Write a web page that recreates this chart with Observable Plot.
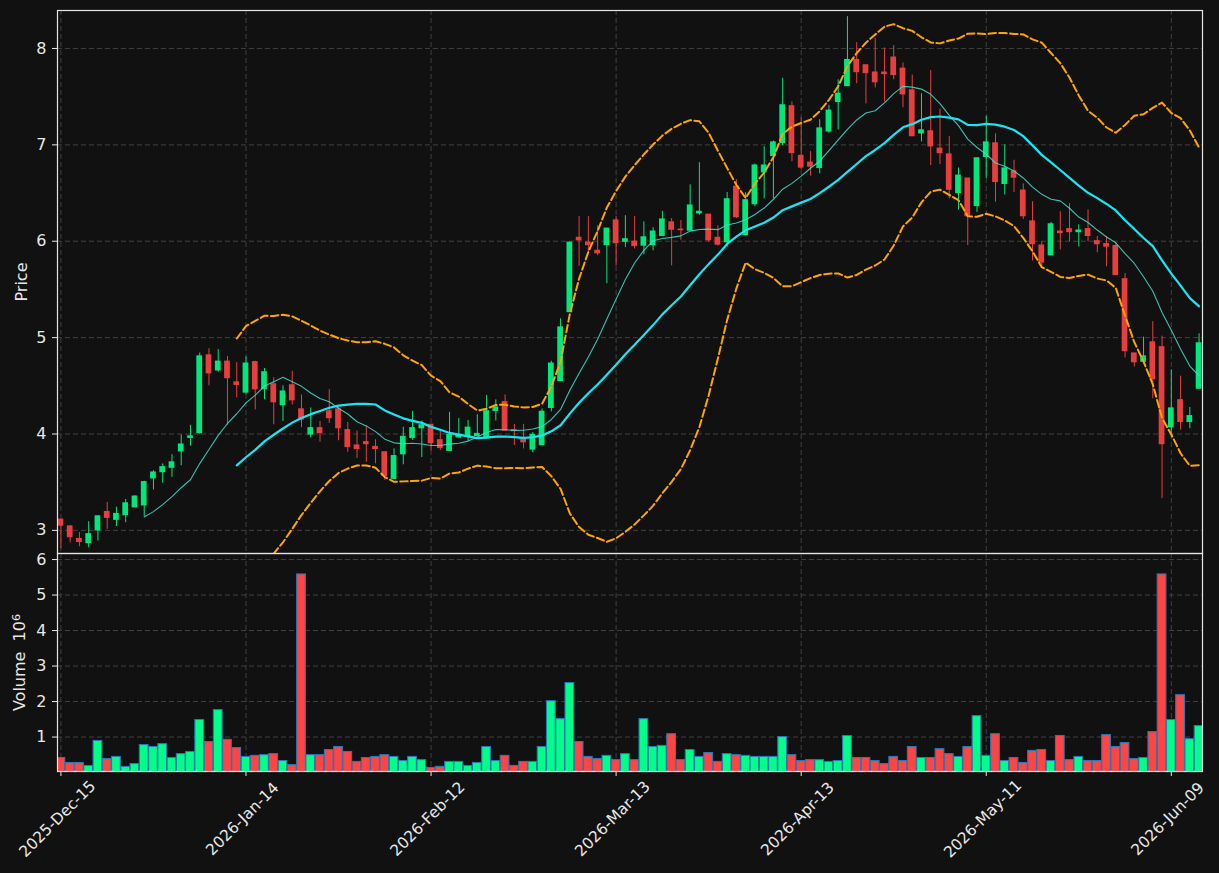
<!DOCTYPE html>
<html><head><meta charset="utf-8">
<script src="https://cdn.jsdelivr.net/npm/d3@7"></script>
<script src="https://cdn.jsdelivr.net/npm/@observablehq/plot@0.6"></script>
<style>
html,body{margin:0;padding:0;background:#111111;}
#chart{width:1219px;height:873px;background:#111111;overflow:hidden;}
#chart svg{display:block;}
</style></head><body><div id="chart"></div>
<script>
// Daily OHLC (price) and volume (millions of shares), one entry per trading day
const openP = [3.11,3.04,2.91,2.87,3.00,3.19,3.11,3.16,3.24,3.26,
3.54,3.605,3.65,3.82,3.96,4.01,4.815,4.66,4.75,4.535,
4.43,4.745,4.465,4.515,4.30,4.505,4.255,3.995,4.06,4.235,
4.255,4.04,3.88,3.915,3.865,3.81,3.535,3.79,3.96,4.06,
4.095,3.935,3.825,3.965,3.98,3.98,3.96,4.24,4.33,4.04,
3.945,3.84,3.885,4.27,4.55,5.265,6.035,5.985,5.90,5.96,
6.215,5.995,5.995,5.955,5.96,6.055,6.195,6.12,6.11,6.29,
6.275,6.035,5.99,6.565,6.065,6.385,6.715,6.885,7.02,7.40,
6.885,6.815,6.76,7.14,7.445,7.61,7.88,7.825,7.75,7.75,
7.905,7.79,7.565,7.12,7.14,6.96,6.90,6.50,6.65,6.365,
6.875,7.015,6.595,6.725,6.525,6.205,5.955,5.855,6.10,6.125,
6.095,6.125,6.00,5.97,5.95,5.605,4.835,4.75,4.95,4.90,
4.07,4.35,4.125,4.47];
const highP = [3.12,3.05,2.98,3.09,3.15,3.29,3.24,3.32,3.36,3.51,
3.62,3.69,3.785,3.99,4.09,4.84,4.885,4.875,4.805,4.74,
4.80,4.755,4.68,4.585,4.50,4.65,4.405,4.27,4.13,4.46,
4.27,4.12,4.03,4.085,3.94,3.81,3.845,4.07,4.235,4.135,
4.10,4.03,4.225,4.16,4.14,4.20,4.40,4.355,4.405,4.10,
4.10,4.015,4.26,4.755,5.195,5.99,6.255,6.255,6.16,6.135,
6.255,6.265,6.255,6.20,6.14,6.31,6.235,6.215,6.585,6.815,
6.275,6.16,6.505,6.64,6.505,6.80,6.98,7.04,7.69,7.445,
7.28,6.93,7.26,7.41,7.675,8.33,8.06,7.825,8.105,8.005,
8.03,7.85,7.725,7.53,7.77,7.37,7.085,6.76,6.65,6.86,
7.295,7.115,7.00,6.84,6.595,6.41,5.995,6.195,6.305,6.39,
6.17,6.325,6.05,6.05,5.98,5.665,4.835,5.005,5.165,5.015,
4.665,4.60,4.275,5.04];
const lowP = [2.81,2.87,2.83,2.82,2.89,3.01,3.04,3.08,3.235,3.145,
3.42,3.49,3.55,3.67,3.875,4.00,4.50,4.64,4.09,4.375,
4.41,4.25,4.355,4.095,4.13,4.30,4.065,3.96,3.915,4.11,
3.93,3.81,3.745,3.705,3.69,3.52,3.53,3.68,3.935,3.755,
3.825,3.83,3.82,3.955,3.925,3.98,3.945,4.135,4.03,3.88,
3.845,3.805,3.885,4.23,4.55,5.265,5.74,5.875,5.85,5.56,
5.745,5.935,5.92,5.86,5.90,6.05,5.745,6.01,6.11,6.27,
5.99,5.95,5.94,6.235,6.055,6.36,6.44,6.44,6.99,6.825,
6.74,6.675,6.70,7.12,7.155,7.61,7.635,7.425,7.59,7.445,
7.675,7.385,7.09,7.03,6.785,6.795,6.44,6.325,5.955,6.30,
6.65,6.405,6.48,6.505,6.225,5.795,5.715,5.855,5.91,5.995,
5.94,5.995,5.88,5.735,5.65,4.79,4.695,4.75,4.365,3.33,
3.96,4.04,4.055,4.47];
const closeP = [3.05,2.93,2.88,2.96,3.145,3.13,3.17,3.28,3.35,3.50,
3.60,3.655,3.705,3.89,3.975,4.805,4.63,4.75,4.58,4.51,
4.73,4.465,4.64,4.33,4.44,4.35,4.15,4.06,4.01,4.165,
4.06,3.865,3.845,3.895,3.845,3.565,3.77,3.97,4.06,4.09,
3.905,3.855,3.99,3.99,4.065,4.00,4.235,4.275,4.035,4.03,
3.915,3.99,4.23,4.73,5.105,5.985,6.01,5.96,5.875,6.13,
5.98,6.02,5.95,6.04,6.10,6.225,6.12,6.115,6.37,6.305,
6.01,5.965,6.435,6.25,6.425,6.785,6.785,7.025,7.41,6.915,
6.765,6.775,7.17,7.355,7.53,7.88,7.755,7.745,7.65,7.735,
7.725,7.525,7.09,7.15,6.985,6.915,6.535,6.68,6.26,6.86,
7.025,6.615,6.755,6.66,6.26,5.97,5.78,6.175,6.085,6.095,
6.11,6.055,5.97,5.945,5.65,4.86,4.745,4.805,4.57,3.895,
4.265,4.125,4.185,4.94];
const volumeM = [0.41,0.27,0.27,0.185,0.89,0.38,0.44,0.16,0.24,0.775,
0.72,0.80,0.41,0.52,0.58,1.48,0.86,1.76,0.92,0.69,
0.44,0.47,0.49,0.52,0.325,0.21,5.58,0.49,0.49,0.635,
0.72,0.58,0.30,0.41,0.44,0.49,0.44,0.325,0.44,0.35,
0.13,0.16,0.30,0.30,0.185,0.27,0.72,0.325,0.47,0.185,
0.30,0.30,0.72,2.01,1.505,2.52,0.86,0.44,0.38,0.47,
0.35,0.52,0.35,1.505,0.72,0.75,1.08,0.35,0.635,0.44,
0.55,0.30,0.52,0.49,0.47,0.44,0.44,0.44,1.0,0.49,
0.325,0.35,0.35,0.30,0.325,1.03,0.41,0.41,0.325,0.24,
0.44,0.325,0.72,0.41,0.41,0.66,0.52,0.44,0.72,1.59,
0.47,1.08,0.325,0.41,0.27,0.61,0.635,0.325,1.03,0.35,
0.44,0.325,0.325,1.055,0.72,0.83,0.38,0.41,1.14,5.58,
1.48,2.18,0.94,1.31];
// x-axis tick labels (trading-day index of each labelled date)
const tickDay = [0,20,40,60,80,100,120];
const tickLabels = ["2025-Dec-15","2026-Jan-14","2026-Feb-12","2026-Mar-13","2026-Apr-13","2026-May-11","2026-Jun-09"];
const priceTicks = [3,4,5,6,7,8];
const volumeTicks = [1,2,3,4,5,6];

const bars = openP.map((o, i) => ({i, open: o, high: highP[i], low: lowP[i], close: closeP[i], volume: volumeM[i], up: closeP[i] >= o}));
const ups = bars.filter(d => d.up), downs = bars.filter(d => !d.up);
const ticks = tickDay.map((t, j) => ({t, label: tickLabels[j]}));

const UP = "#00e77c", DN = "#e73f3f";
const VUP = "#00ff88", VDN = "#ff4444";
const GRID = {stroke: "#404040", strokeOpacity: 1, strokeWidth: 1, strokeDasharray: "5,3"};
const FONT = "'DejaVu Sans', sans-serif";
const XDOM = [-0.37, 123.37];
const TXT = "#e8e8e8";

const pricePlot = Plot.plot({
  width: 1219, height: 553,
  marginLeft: 57, marginRight: 17, marginTop: 10, marginBottom: 0,
  style: {background: "#111111", color: TXT, fontFamily: FONT, fontSize: "16px", overflow: "visible"},
  x: {domain: XDOM, axis: null},
  y: {domain: [2.76, 8.394], axis: null},
  marks: [
    Plot.gridX(tickDay, GRID),
    Plot.gridY(priceTicks, GRID),
    Plot.ruleX(ups, {x: "i", y1: "low", y2: "high", stroke: UP, strokeWidth: 1}),
    Plot.ruleX(downs, {x: "i", y1: "low", y2: "high", stroke: DN, strokeWidth: 1}),
    Plot.rect(ups, {x1: d => d.i - 0.31, x2: d => d.i + 0.31, y1: "open", y2: "close", fill: UP, insetTop: -0.6, insetBottom: -0.6}),
    Plot.rect(downs, {x1: d => d.i - 0.31, x2: d => d.i + 0.31, y1: "open", y2: "close", fill: DN, insetTop: -0.6, insetBottom: -0.6}),
    Plot.lineY(bars, Plot.windowY({k: 20, anchor: "end", strict: true, reduce: v => d3.mean(v) + 2 * d3.deviation(v)},
      {x: "i", y: "close", stroke: "#ffa500", strokeWidth: 2, strokeDasharray: "7.5,3.3", clip: true})),
    Plot.lineY(bars, Plot.windowY({k: 20, anchor: "end", strict: true, reduce: v => d3.mean(v) - 2 * d3.deviation(v)},
      {x: "i", y: "close", stroke: "#ffa500", strokeWidth: 2, strokeDasharray: "7.5,3.3", clip: true})),
    Plot.lineY(bars, Plot.windowY({k: 10, anchor: "end", strict: true, reduce: "mean"},
      {x: "i", y: "close", stroke: "#40e0d0", strokeOpacity: 0.85, strokeWidth: 1.1, clip: true})),
    Plot.lineY(bars, Plot.windowY({k: 20, anchor: "end", strict: true, reduce: "mean"},
      {x: "i", y: "close", stroke: "#1ae6f2", strokeWidth: 2.2, clip: true})),
    Plot.axisY({ticks: priceTicks, tickFormat: d3.format("d"), tickSize: 5, tickPadding: 6, stroke: TXT, fill: TXT, fontSize: 16,
      label: "Price", labelAnchor: "center", labelArrow: "none", labelOffset: 42}),
    Plot.frame({stroke: "#e6e6e6", strokeWidth: 1.2})
  ]
});

const volumePlot = Plot.plot({
  width: 1219, height: 320,
  marginLeft: 57, marginRight: 17, marginTop: 0, marginBottom: 102,
  style: {background: "#111111", color: TXT, fontFamily: FONT, fontSize: "16px", overflow: "visible"},
  x: {domain: XDOM, axis: null},
  y: {domain: [0.03, 6.17], axis: null},
  marks: [
    Plot.gridX(tickDay, GRID),
    Plot.gridY(volumeTicks, GRID),
    Plot.rect(ups, {x1: d => d.i - 0.47, x2: d => d.i + 0.47, y1: d => 0, y2: "volume", fill: VUP, stroke: "#2a78b5", strokeWidth: 1.1, clip: true}),
    Plot.rect(downs, {x1: d => d.i - 0.47, x2: d => d.i + 0.47, y1: d => 0, y2: "volume", fill: VDN, stroke: "#2a78b5", strokeWidth: 1.1, clip: true}),
    Plot.axisY({ticks: volumeTicks, tickFormat: d3.format("d"), tickSize: 5, tickPadding: 6, stroke: TXT, fill: TXT, fontSize: 16,
      label: "Volume  10⁶", labelAnchor: "center", labelArrow: "none", labelOffset: 44}),
    Plot.axisX({ticks: tickDay, tickFormat: () => "", tickSize: 5, stroke: TXT, label: null}),
    Plot.text(ticks, {x: "t", text: "label", frameAnchor: "bottom", rotate: -45, textAnchor: "middle",
      dy: 51, fill: TXT, fontSize: 15.5}),
    Plot.frame({stroke: "#e6e6e6", strokeWidth: 1.2})
  ]
});

const root = document.getElementById("chart");
root.appendChild(pricePlot);
root.appendChild(volumePlot);

// render the offset exponent of the volume label as a real superscript
for (const t of volumePlot.querySelectorAll("text")) {
  if (t.textContent.startsWith("Volume")) {
    t.textContent = "";
    const a = document.createElementNS("http://www.w3.org/2000/svg", "tspan");
    a.textContent = "Volume  10";
    const b = document.createElementNS("http://www.w3.org/2000/svg", "tspan");
    b.textContent = "6";
    b.setAttribute("dy", "-0.45em");
    b.setAttribute("font-size", "0.7em");
    t.appendChild(a); t.appendChild(b);
  }
}
</script>
</body></html>
